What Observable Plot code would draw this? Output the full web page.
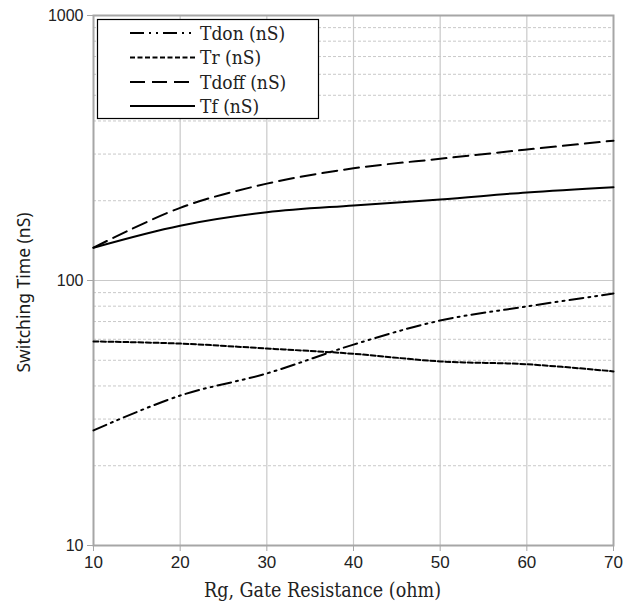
<!DOCTYPE html>
<html>
<head>
<meta charset="utf-8">
<script src="https://cdn.jsdelivr.net/npm/d3@7"></script>
<script src="https://cdn.jsdelivr.net/npm/@observablehq/plot@0.6"></script>
<style>
  html, body { margin: 0; padding: 0; background: #fff; }
  g[font-family*="Serif"], text[font-family*="Serif"] { font-stretch: condensed; }
</style>
</head>
<body>
<div id="chart"></div>
<script>
// ---- data ----
const rg = [10, 20, 30, 40, 50, 60, 70];
const tdon = [27.2, 36.8, 44.6, 57.3, 70.6, 79.8, 89.3];
const tr = [58.9, 57.8, 55.4, 52.9, 49.5, 48.3, 45.4];
const tdoff = [133, 188, 232, 265, 288, 312, 337];
const tf = [133, 161, 181, 192, 202, 215, 225];
const seriesNames = ["Tdon (nS)", "Tr (nS)", "Tdoff (nS)", "Tf (nS)"];
const xTicks = [10, 20, 30, 40, 50, 60, 70];
const yTicks = [10, 100, 1000];
const yMinor = [20, 30, 40, 50, 60, 70, 80, 90, 200, 300, 400, 500, 600, 700, 800, 900];
const xTitle = "Rg, Gate Resistance (ohm)";
const yTitle = "Switching Time (nS)";

// ---- styles ----
const serif = "'DejaVu Serif Condensed', 'DejaVu Serif', serif";
const dashes = {
  "Tdon (nS)": "14,5,2,5,2,5",
  "Tr (nS)": "5,2.5",
  "Tdoff (nS)": "15,7",
  "Tf (nS)": null
};
const seriesValues = [tdon, tr, tdoff, tf];
const rows = seriesNames.flatMap((name, i) =>
  rg.map((x, j) => ({ series: name, x, y: seriesValues[i][j] })));

const grid = "#c9c9c9";
const axisGray = "#a6a6a6";

const lineMarks = seriesNames.map(name =>
  Plot.line(rows.filter(d => d.series === name), {
    x: "x", y: "y", curve: "catmull-rom",
    stroke: "#000", strokeWidth: 2,
    strokeDasharray: dashes[name] || undefined
  }));

const chart = Plot.plot({
  width: 631,
  height: 612,
  marginLeft: 93,
  marginRight: 18,
  marginTop: 15,
  marginBottom: 67,
  style: { fontFamily: "Liberation Sans, Arial, sans-serif", background: "#fff" },
  x: { domain: [10, 70] },
  y: { type: "log", domain: [10, 1000] },
  marks: [
    Plot.ruleY(yMinor, { stroke: grid, strokeWidth: 1, strokeDasharray: "3,2" }),
    Plot.ruleY([100], { stroke: grid, strokeWidth: 1.2 }),
    Plot.ruleX(xTicks.slice(1, -1), { stroke: grid, strokeWidth: 1.2 }),
    Plot.frame({ stroke: axisGray, strokeWidth: 2 }),
    Plot.axisX({
      ticks: xTicks, tickSize: 6, tickPadding: 4, stroke: axisGray,
      tickFormat: d => String(d), fontSize: 17, fill: "#222", label: null
    }),
    Plot.axisY({
      ticks: yTicks, tickSize: 6, tickPadding: 4, stroke: axisGray,
      tickFormat: d => String(d), fontSize: 16, fill: "#222", label: null
    }),
    ...lineMarks,
    Plot.text([xTitle], {
      frameAnchor: "bottom", dx: -31, dy: 51, text: d => d, textAnchor: "middle",
      fontFamily: serif, fontSize: 19.5, fill: "#222"
    }),
    Plot.text([yTitle], {
      frameAnchor: "left", dx: -69, dy: 12, rotate: -90, text: d => d, textAnchor: "middle",
      fontFamily: "Noto Sans", fontSize: 17.5, fill: "#1a1a1a"
    })
  ]
});

document.getElementById("chart").appendChild(chart);

// ---- legend (inside plot area, top-left) ----
const svg = d3.select(chart);
const lg = svg.append("g").attr("class", "legend");
lg.append("rect")
  .attr("x", 97.5).attr("y", 19.5).attr("width", 221).attr("height", 99)
  .attr("fill", "#fff").attr("stroke", "#000").attr("stroke-width", 1.2);
const rowY = [33, 57.5, 82, 106];
seriesNames.forEach((name, i) => {
  lg.append("line")
    .attr("x1", 130).attr("x2", 195).attr("y1", rowY[i]).attr("y2", rowY[i])
    .attr("stroke", "#000").attr("stroke-width", 2)
    .attr("stroke-dasharray", dashes[name] || null);
  lg.append("text")
    .attr("x", 200).attr("y", rowY[i]).attr("dy", "0.35em")
    .attr("text-anchor", "start")
    .attr("font-family", serif).attr("font-size", 19)
    .style("font-stretch", "condensed")
    .attr("fill", "#222").text(name);
});
</script>
</body>
</html>
